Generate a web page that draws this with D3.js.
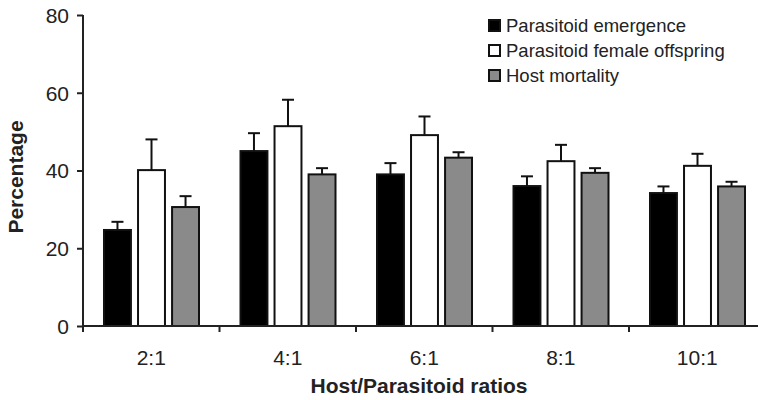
<!DOCTYPE html>
<html><head><meta charset="utf-8">
<script src="https://cdn.jsdelivr.net/npm/d3@7/dist/d3.min.js"></script>
<style>body{margin:0;background:#fff}svg{display:block}text{font-family:"Liberation Sans",Arial,sans-serif;fill:#222}</style>
</head><body><svg id="c" width="758" height="400"></svg>
<script>
const categories = ["2:1","4:1","6:1","8:1","10:1"];
const seriesNames = ["Parasitoid emergence","Parasitoid female offspring","Host mortality"];
const emergence = [24.7, 45.0, 39.0, 36.0, 34.2];
const emergenceErr = [2.1, 4.6, 2.9, 2.5, 1.7];
const femaleOffspring = [40.1, 51.4, 49.1, 42.4, 41.2];
const femaleOffspringErr = [7.9, 6.8, 4.8, 4.2, 3.1];
const hostMortality = [30.6, 39.0, 43.3, 39.4, 35.9];
const hostMortalityErr = [2.8, 1.6, 1.4, 1.2, 1.2];
const yTicks = [0, 20, 40, 60, 80];
const colors = ["#000000", "#ffffff", "#8a8a8a"];

const svg = d3.select("#c");
const x0 = d3.scaleBand().domain(categories).range([83, 765.5]).padding(0);
const x1 = d3.scaleBand().domain(seriesNames).range([20, 117]).paddingInner(0.15);
const y = d3.scaleLinear().domain([0, 80]).range([326, 15]);

const vals = [emergence, femaleOffspring, hostMortality];
const errs = [emergenceErr, femaleOffspringErr, hostMortalityErr];
const data = [];
categories.forEach((c, i) => seriesNames.forEach((s, j) => data.push({c, s, j, v: vals[j][i], e: errs[j][i]})));

// error bars
const eb = svg.append("g").attr("stroke", "#111").attr("stroke-width", 2);
data.forEach(d => {
  const cx = x0(d.c) + x1(d.s) + x1.bandwidth() / 2;
  eb.append("line").attr("x1", cx).attr("x2", cx).attr("y1", y(d.v)).attr("y2", y(d.v + d.e));
  eb.append("line").attr("x1", cx - 6).attr("x2", cx + 6).attr("y1", y(d.v + d.e)).attr("y2", y(d.v + d.e));
});

// bars
svg.append("g").selectAll("rect").data(data).join("rect")
  .attr("x", d => x0(d.c) + x1(d.s) + 1)
  .attr("width", x1.bandwidth() - 2)
  .attr("y", d => y(d.v))
  .attr("height", d => y(0) - y(d.v))
  .attr("fill", d => colors[d.j])
  .attr("stroke", "#111").attr("stroke-width", 2);

// y axis
const ya = svg.append("g").attr("transform", "translate(83,0)")
  .call(d3.axisLeft(y).tickValues(yTicks).tickSize(6).tickPadding(8));
ya.select(".domain").remove();
ya.append("line").attr("x1", 0).attr("x2", 0).attr("y1", 15).attr("y2", 332).attr("stroke", "#222").attr("stroke-width", 2);
ya.selectAll(".tick line").attr("stroke", "#222").attr("stroke-width", 2);
ya.selectAll(".tick text").style("font-size", "21px").attr("fill", "#222").attr("dy", "0.35em");

// x axis
const xa = svg.append("g").attr("transform", "translate(0,326)")
  .call(d3.axisBottom(x0).tickSize(0).tickPadding(24));
xa.select(".domain").remove();
xa.append("line").attr("x1", 83).attr("x2", 758).attr("y1", 0).attr("y2", 0).attr("stroke", "#222").attr("stroke-width", 2);
xa.selectAll(".tick text").style("font-size", "21px").attr("fill", "#222");
const boundaries = categories.map(c => x0(c));
xa.selectAll("line.bt").data(boundaries).join("line").attr("class", "bt")
  .attr("x1", d => d).attr("x2", d => d).attr("y1", 0).attr("y2", 6)
  .attr("stroke", "#222").attr("stroke-width", 2);

// axis titles
svg.append("text").attr("x", 419).attr("y", 393).attr("text-anchor", "middle")
  .style("font-size", "21px").style("font-weight", "bold").text("Host/Parasitoid ratios");
svg.append("text").attr("transform", "translate(23,177) rotate(-90)").attr("text-anchor", "middle")
  .style("font-size", "21px").style("font-weight", "bold").text("Percentage");

// legend
const lg = svg.append("g");
seriesNames.forEach((s, j) => {
  const yy = 20 + j * 25;
  lg.append("rect").attr("x", 489).attr("y", yy).attr("width", 11).attr("height", 11)
    .attr("fill", colors[j]).attr("stroke", "#111").attr("stroke-width", 2);
  lg.append("text").attr("x", 506).attr("y", yy + 12).style("font-size", "18.5px").text(s);
});
</script></body></html>
